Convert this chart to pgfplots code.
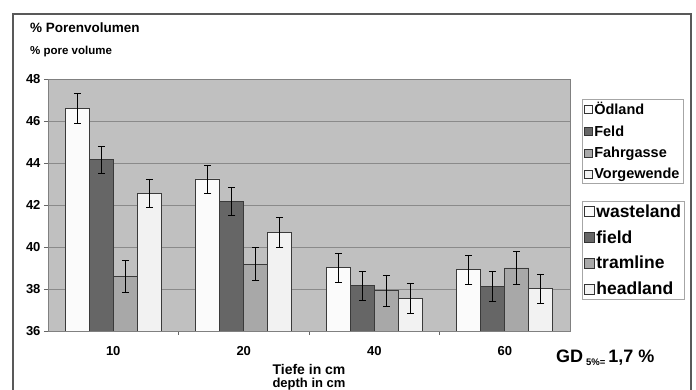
\documentclass[border=0pt]{standalone}
\usepackage{fontspec}
\setmainfont{Liberation Sans}
\usepackage{pgfplots}
\usepackage{pgfplotstable}
\pgfplotsset{compat=1.18}
\definecolor{bgc}{HTML}{C0C0C0}
\definecolor{gridc}{HTML}{8A8A8A}
\definecolor{oed}{HTML}{FBFBFB}
\definecolor{feld}{HTML}{666666}
\definecolor{fahr}{HTML}{A8A8A8}
\definecolor{vorg}{HTML}{F2F2F2}
\definecolor{barc}{HTML}{3A3A3A}
\pgfplotstableread{
x y e
0 46.60 0.70
1 43.24 0.67
2 39.02 0.68
3 38.92 0.68
}\oed
\pgfplotstableread{
x y e
0 44.15 0.65
1 42.19 0.67
2 38.15 0.68
3 38.12 0.70
}\feld
\pgfplotstableread{
x y e
0 38.60 0.75
1 39.19 0.78
2 37.92 0.75
3 39.00 0.77
}\fahr
\pgfplotstableread{
x y e
0 42.56 0.68
1 40.70 0.70
2 37.56 0.70
3 38.02 0.70
}\vorg
\begin{document}
\begin{tikzpicture}[x=1pt,y=1pt]
\useasboundingbox (0,0) rectangle (696,390);
\draw[line width=1.2pt, color=black!65] (13,-10) -- (13,376) -- (691,376) -- (691,-10);
\node[anchor=west, inner sep=0, font=\bfseries\fontsize{13.5}{15}\selectfont] at (30,362) {\% Porenvolumen};
\node[anchor=west, inner sep=0, font=\bfseries\fontsize{11.5}{13}\selectfont] at (30,338) {\% pore volume};
\begin{axis}[
  at={(48pt,59pt)}, anchor=south west,
  scale only axis, width=522pt, height=252pt,
  ybar=0pt, bar width=24pt,
  xmin=-0.5, xmax=3.5, ymin=36, ymax=48,
  ytick={36,38,...,48},
  xtick={0.5,1.5,2.5}, xticklabels={},
  extra x ticks={0,1,2,3}, extra x tick labels={10,20,40,60},
  extra x tick style={major tick length=0pt, grid=none},
  tick pos=left,
  ymajorgrids, grid style={color=gridc, line width=0.8pt},
  axis background/.style={fill=bgc},
  axis line style={draw=black!50},
  tick style={draw=black!60, line width=0.6pt},
  tick align=outside, major tick length=4pt,
  ticklabel style={font=\bfseries\fontsize{13}{15}\selectfont},
  xticklabel style={yshift=-12pt},
  /pgf/number format/assume math mode=true,
  error bars/error bar style={line width=0.7pt, black},
  error bars/error mark options={rotate=90, mark size=3.5pt, line width=0.7pt, black},
  legend image code/.code={\draw[#1, draw=black!80, line width=0.6pt] (0pt,-4pt) rectangle (8pt,4pt);},
  legend style={at={(1.023,0.922)}, anchor=north west, draw=black!35, fill=white,
    font=\bfseries\fontsize{14.5}{16}\selectfont, cells={anchor=west}, row sep=6.3pt, inner sep=2pt,
    nodes={inner xsep=1.5pt, inner ysep=1.5pt}},
]
\addplot[fill=oed, draw=barc, line width=0.7pt, error bars/.cd, y dir=both, y explicit] table[x=x,y=y,y error=e] {\oed};
\addlegendentry{Ödland}
\addplot[fill=feld, draw=barc, line width=0.7pt, error bars/.cd, y dir=both, y explicit] table[x=x,y=y,y error=e] {\feld};
\addlegendentry{Feld}
\addplot[fill=fahr, draw=barc, line width=0.7pt, error bars/.cd, y dir=both, y explicit] table[x=x,y=y,y error=e] {\fahr};
\addlegendentry{Fahrgasse}
\addplot[fill=vorg, draw=barc, line width=0.7pt, error bars/.cd, y dir=both, y explicit] table[x=x,y=y,y error=e] {\vorg};
\addlegendentry{Vorgewende}
\end{axis}
\begin{axis}[
  at={(48pt,59pt)}, anchor=south west,
  scale only axis, width=522pt, height=252pt,
  xmin=0, xmax=1, ymin=0, ymax=1, hide axis,
  legend image code/.code={\draw[#1, draw=black!80, line width=0.7pt] (0pt,-5pt) rectangle (10pt,5pt);},
  legend style={at={(1.023,0.516)}, anchor=north west, draw=black!35, fill=white,
    font=\bfseries\fontsize{17.5}{19}\selectfont, cells={anchor=west}, row sep=8.6pt, inner sep=2pt,
    nodes={inner xsep=1.5pt, inner ysep=1.5pt}},
]
\addlegendimage{fill=oed}
\addlegendentry{wasteland}
\addlegendimage{fill=feld}
\addlegendentry{field}
\addlegendimage{fill=fahr}
\addlegendentry{tramline}
\addlegendimage{fill=vorg}
\addlegendentry{headland}
\end{axis}
\node[font=\bfseries\fontsize{14}{16}\selectfont] at (309,21) {Tiefe in cm};
\node[font=\bfseries\fontsize{13}{15}\selectfont] at (309,6) {depth in cm};
\node[anchor=base west, inner sep=0, font=\bfseries\fontsize{18}{20}\selectfont] at (556,27) {GD\,{\fontsize{9.5}{10}\selectfont\raisebox{-2.5pt}{5\%=}}\,1,7 \%};
\end{tikzpicture}
\end{document}
